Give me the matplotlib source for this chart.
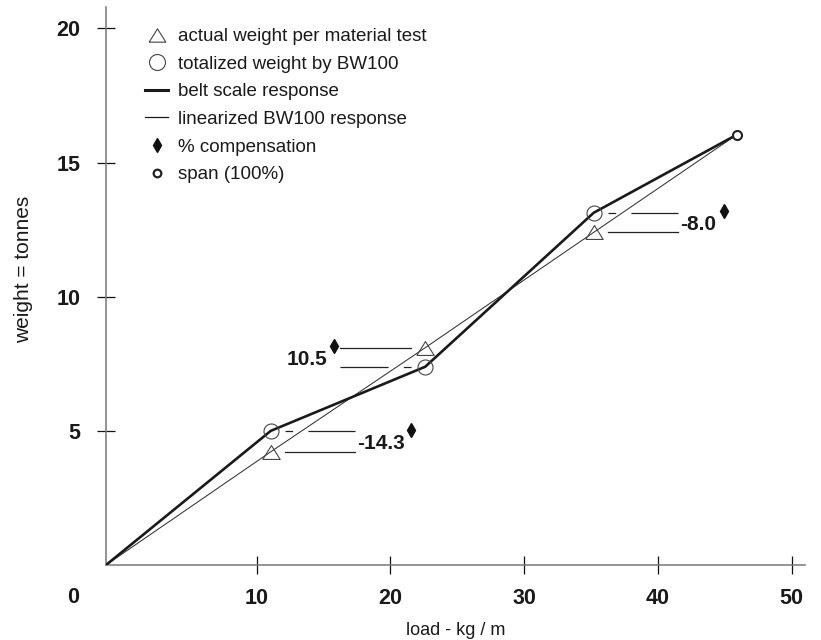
import numpy as np
import matplotlib
matplotlib.use("Agg")
from matplotlib import pyplot as plt
from matplotlib.lines import Line2D
from matplotlib.transforms import Affine2D, ScaledTranslation

plt.rcParams['font.family'] = ['Liberation Sans', 'DejaVu Sans']
plt.rcParams['lines.scale_dashes'] = False

# material test points, load in kg/m and weight in tonnes
load = [0, 11.05, 22.6, 35.2, 45.9]
actual = [0, 4.22, 8.10, 12.40, 16.04]      # actual weight per material test
totalized = [0, 5.00, 7.39, 13.13, 16.04]   # totalized weight by BW100
compensation = ['-14.3', '10.5', '-8.0']
label_side = [1, -1, 1]

x_ticks = [10, 20, 30, 40, 50]
y_ticks = [5, 10, 15, 20]

# the first decade of the load axis is drawn a bit wider than the others
def fwd(x):
    x = np.asarray(x, dtype=float)
    return np.where(x < 10, x * 1.127, x + 1.27)

def inv(u):
    u = np.asarray(u, dtype=float)
    return np.where(u < 11.27, u / 1.127, u - 1.27)

fig = plt.figure(figsize=(8.21, 6.4), dpi=100)
ax = fig.add_axes([106 / 821, 75 / 640, 699 / 821, 558 / 640])
ax.set_xscale('function', functions=(fwd, inv))

tri = [(-1, -0.8), (1, -0.8), (0, 0.8), (-1, -0.8)]
edge = '#444444'
ink = '#1a1a1a'

ax.plot(load, actual, color='#333333', lw=0.75, zorder=2)
ax.plot(load, totalized, color=ink, lw=1.9, zorder=3)
ax.plot(load[1:-1], actual[1:-1], ls='none', marker=tri, ms=12.5,
        mfc='none', mec=edge, mew=0.8, zorder=4)
ax.plot(load[1:-1], totalized[1:-1], ls='none', marker='o', ms=10.8,
        mfc='none', mec=edge, mew=0.8, zorder=4)
ax.plot(load[-1], totalized[-1], ls='none', marker='o', ms=6.5,
        mfc='white', mec='#222222', mew=1.5, zorder=5)


def at(x, y):
    # coordinates in points, measured from a data point
    return Affine2D().scale(1 / 72) + fig.dpi_scale_trans + ScaledTranslation(x, y, ax.transData)


for i, side in enumerate(label_side):
    x, ya, yt = load[i + 1], actual[i + 1], totalized[i + 1]
    near, far = 10 * side, 61 * side
    ax.plot([near, far], [0, 0], color='#222222', lw=0.9, transform=at(x, ya))
    ax.plot([near, far], [0, 0], color='#222222', lw=0.9, transform=at(x, yt),
            ls=(0, (5.5, 11, 40, 10)))
    ymid = (ya + yt) / 2
    if side > 0:
        ax.annotate(compensation[i], xy=(x, ymid), xytext=(62, -1.5), textcoords='offset points',
                    ha='left', va='center', fontsize=15, fontweight='bold', color=ink)
        ax.plot(101 if i == 0 else 94, 8.5, marker='d', ms=7.5, color='#111111',
                transform=at(x, ymid))
    else:
        ax.annotate(compensation[i], xy=(x, ymid), xytext=(-70.5, -1.5), textcoords='offset points',
                    ha='right', va='center', fontsize=15, fontweight='bold', color=ink)
        ax.plot(-65.5, 8.3, marker='d', ms=7.5, color='#111111', transform=at(x, ymid))

# axes
ax.set_xlim(0, 51)
ax.set_ylim(0, 20.8)
ax.set_xticks(x_ticks, labels=[str(v) for v in x_ticks], fontweight='bold', fontsize=15.5)
ax.set_yticks(y_ticks, labels=[str(v) for v in y_ticks], fontweight='bold', fontsize=15.5)
ax.tick_params(axis='both', direction='inout', length=13, width=0.9, color='#111111',
               labelcolor=ink)
ax.tick_params(axis='x', pad=10)
ax.tick_params(axis='y', pad=12)
ax.annotate('0', xy=(0, 0), xytext=(-19.5, -23.5), textcoords='offset points',
            ha='right', va='center', fontsize=15.5, fontweight='bold', color=ink)
for s in ['top', 'right']:
    ax.spines[s].set_visible(False)
for s in ['left', 'bottom']:
    ax.spines[s].set_color('#777777')
    ax.spines[s].set_linewidth(1.1)

ax.set_xlabel('load - kg / m', fontsize=13, color=ink)
ax.xaxis.set_label_coords(0.5, -0.102)
ax.set_ylabel('weight = tonnes', fontsize=15, color=ink)
ax.yaxis.set_label_coords(-0.104, 0.529)

handles = [
    Line2D([], [], ls='none', marker=tri, ms=12, mfc='none', mec=edge, mew=0.8),
    Line2D([], [], ls='none', marker='o', ms=11.5, mfc='none', mec=edge, mew=0.8),
    Line2D([], [], color=ink, lw=2.2),
    Line2D([], [], color=ink, lw=0.9),
    Line2D([], [], ls='none', marker='d', ms=7, color='#111111'),
    Line2D([], [], ls='none', marker='o', ms=5.5, mfc='none', mec='#222222', mew=1.6),
]
labels = ['actual weight per material test', 'totalized weight by BW100',
          'belt scale response', 'linearized BW100 response',
          '% compensation', 'span (100%)']
ax.legend(handles, labels, loc='upper left', bbox_to_anchor=(145 / 821, 1 - 28 / 640),
          bbox_transform=fig.transFigure, frameon=False, fontsize=13.5,
          handlelength=1.23, handletextpad=0.53, labelspacing=0.56, borderpad=0,
          borderaxespad=0, labelcolor=ink)

fig.savefig('out.png', dpi=100)
